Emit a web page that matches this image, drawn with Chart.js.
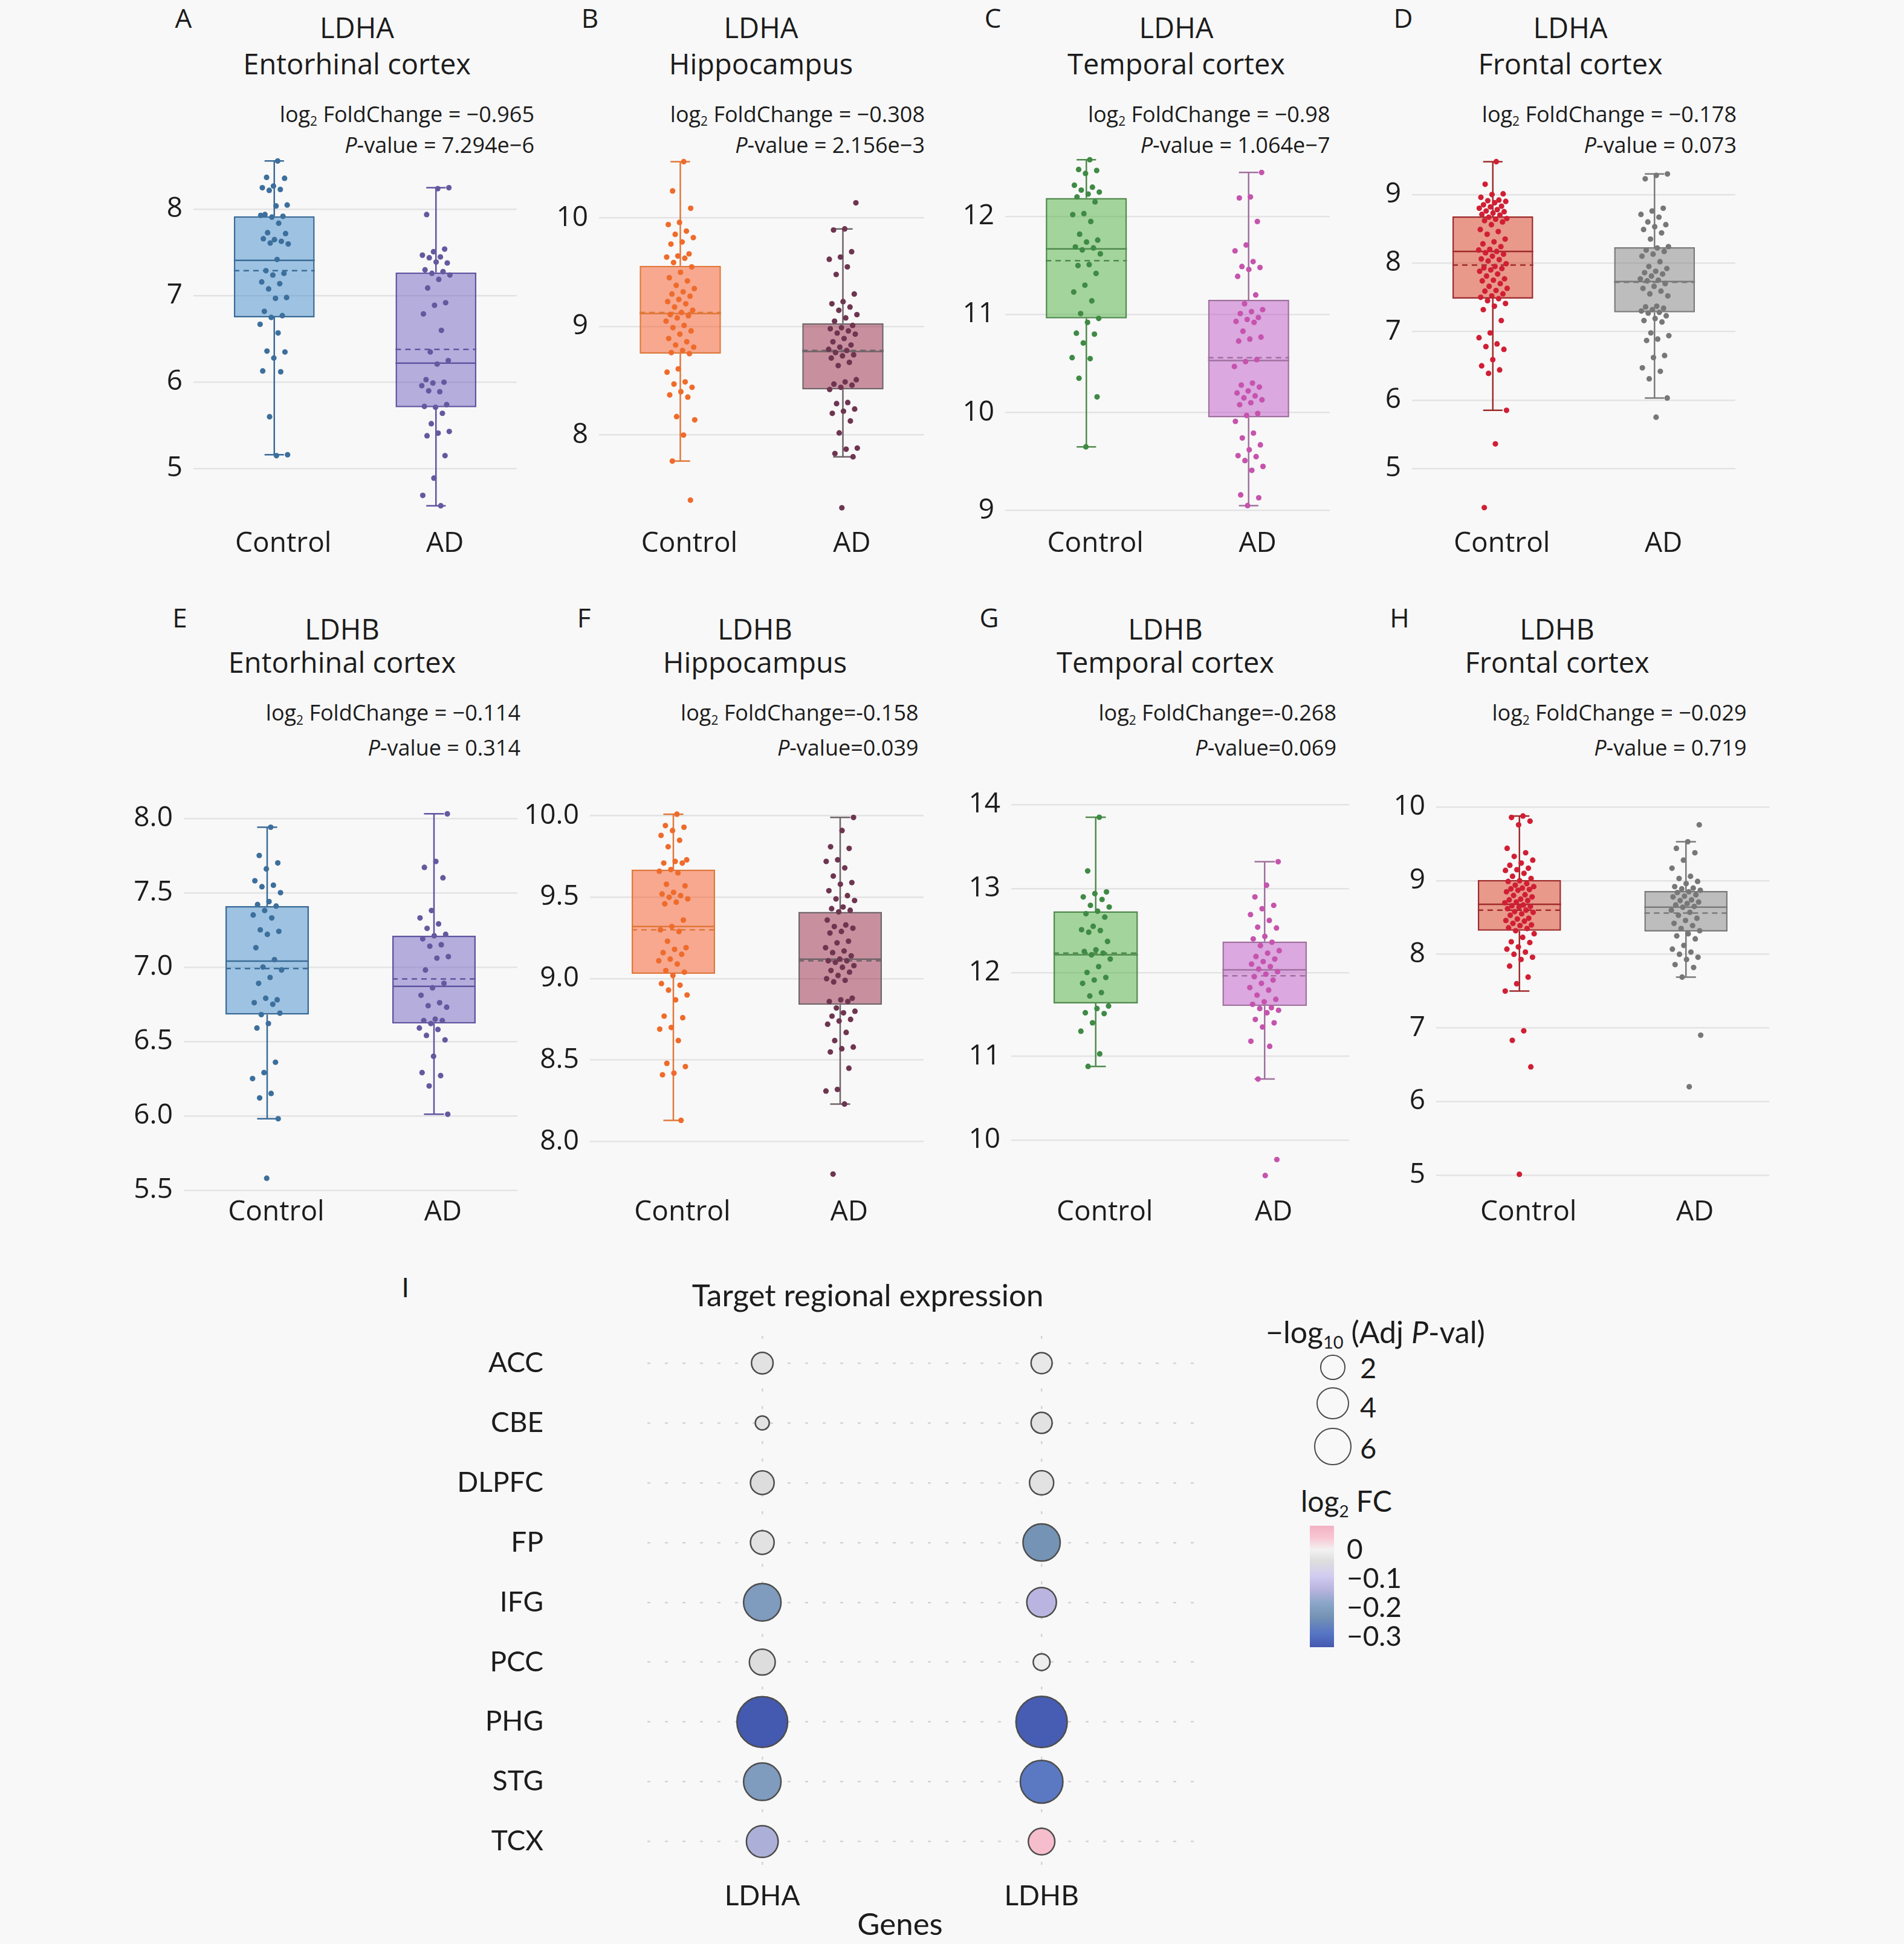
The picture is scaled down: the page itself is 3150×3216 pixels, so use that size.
<!DOCTYPE html>
<html><head><meta charset="utf-8">
<script src="https://cdn.jsdelivr.net/npm/chart.js@4.4.1/dist/chart.umd.min.js"></script>
<style>
html,body{margin:0;padding:0;background:#f8f8f8;}
#page{position:relative;width:3150px;height:3216px;overflow:hidden;background:#f8f8f8;color:#1c1c1c;}
.t{position:absolute;white-space:nowrap;line-height:1;}
.sub{font-size:0.58em;position:relative;top:0.32em;line-height:0;}
canvas{position:absolute;}
.lc{position:absolute;border:2.5px solid #4a4a4a;border-radius:50%;box-sizing:border-box;}
</style></head><body><div id="page"></div>
<script>
// ---------------- DATA ----------------
const CAT = ['Control', 'AD'];
// box stats order: [lower whisker, Q1, median, Q3, upper whisker, mean]
const A_ctrl_box = [5.16, 6.75, 7.41, 7.92, 8.56, 7.29];
const A_ad_box   = [4.57, 5.71, 6.22, 7.27, 8.25, 6.38];
const B_ctrl_box = [7.76, 8.75, 9.12, 9.56, 10.52, 9.13];
const B_ad_box   = [7.80, 8.42, 8.77, 9.03, 9.90, 8.78];
const C_ctrl_box = [9.65, 10.96, 11.67, 12.19, 12.58, 11.55];
const C_ad_box   = [9.05, 9.95, 10.53, 11.15, 12.45, 10.56];
const D_ctrl_box = [5.85, 7.48, 8.17, 8.68, 9.48, 7.97];
const D_ad_box   = [6.03, 7.28, 7.73, 8.23, 9.30, 7.72];
const E_ctrl_box = [5.98, 6.68, 7.04, 7.41, 7.94, 6.99];
const E_ad_box   = [6.01, 6.62, 6.87, 7.21, 8.03, 6.92];
const F_ctrl_box = [8.13, 9.03, 9.32, 9.67, 10.01, 9.30];
const F_ad_box   = [8.23, 8.84, 9.12, 9.41, 9.99, 9.11];
const G_ctrl_box = [10.88, 11.63, 12.21, 12.73, 13.85, 12.23];
const G_ad_box   = [10.73, 11.60, 12.03, 12.37, 13.32, 11.96];
const H_ctrl_box = [7.50, 8.32, 8.68, 9.01, 9.88, 8.60];
const H_ad_box   = [7.69, 8.31, 8.64, 8.86, 9.53, 8.56];

const A_ctrl_pts = [8.56,8.37,8.36,8.27,8.25,8.23,8.22,8.05,8.04,7.94,7.92,7.91,7.93,7.84,7.73,7.72,7.65,7.66,7.63,7.61,7.60,7.42,7.29,7.26,7.24,7.16,7.14,7.08,6.98,6.97,6.82,6.77,6.75,6.67,6.57,6.36,6.35,6.28,6.13,6.12,5.60,5.16,5.15];
const A_ad_pts = [8.25,8.24,7.94,7.54,7.51,7.47,7.45,7.44,7.38,7.39,7.30,7.28,7.26,7.24,7.19,7.09,6.92,6.89,6.79,6.60,6.35,6.25,6.21,6.03,6.00,5.99,5.96,5.89,5.90,5.74,5.71,5.72,5.64,5.52,5.43,5.41,5.38,5.15,4.89,4.69,4.57];
const B_ctrl_pts = [10.52,10.25,10.09,9.96,9.94,9.88,9.85,9.82,9.78,9.76,9.67,9.65,9.64,9.63,9.59,9.55,9.50,9.45,9.42,9.38,9.35,9.32,9.30,9.28,9.25,9.23,9.21,9.18,9.15,9.13,9.11,9.10,9.08,9.05,9.01,8.99,8.96,8.93,8.89,8.86,8.83,8.81,8.78,8.76,8.75,8.61,8.58,8.49,8.47,8.44,8.40,8.37,8.35,8.17,8.14,8.00,7.76,7.40];
const B_ad_pts = [10.14,9.90,9.89,9.69,9.64,9.62,9.55,9.48,9.30,9.23,9.21,9.18,9.15,9.11,9.08,9.05,9.01,8.99,8.98,8.96,8.94,8.93,8.89,8.86,8.83,8.81,8.79,8.78,8.76,8.74,8.73,8.71,8.67,8.64,8.51,8.49,8.47,8.46,8.44,8.42,8.30,8.29,8.24,8.22,8.20,8.13,8.02,7.88,7.87,7.83,7.80,7.33];
const C_ctrl_pts = [12.58,12.48,12.47,12.44,12.32,12.30,12.27,12.25,12.23,12.20,12.15,12.03,12.02,11.95,11.82,11.76,11.74,11.69,11.68,11.66,11.62,11.51,11.50,11.42,11.30,11.23,11.14,11.01,10.96,10.92,10.81,10.80,10.71,10.56,10.55,10.35,10.16,9.65];
const C_ad_pts = [12.45,12.20,12.19,11.95,11.71,11.65,11.54,11.49,11.48,11.46,11.39,11.20,11.11,11.05,11.03,11.01,10.97,10.95,10.93,10.92,10.83,10.77,10.75,10.73,10.54,10.52,10.47,10.30,10.28,10.26,10.22,10.20,10.17,10.15,10.13,10.10,10.08,9.99,9.97,9.91,9.79,9.74,9.67,9.62,9.56,9.55,9.51,9.45,9.41,9.16,9.13,9.05];
const D_ctrl_pts = [9.48,9.15,9.01,9.00,8.96,8.92,8.91,8.90,8.88,8.85,8.83,8.82,8.80,8.78,8.76,8.75,8.73,8.71,8.70,8.67,8.65,8.64,8.62,8.60,8.56,8.49,8.46,8.42,8.35,8.31,8.28,8.24,8.20,8.19,8.17,8.15,8.13,8.10,8.06,8.05,8.03,7.99,7.95,7.93,7.92,7.90,7.88,7.84,7.81,7.77,7.75,7.74,7.70,7.66,7.63,7.60,7.59,7.55,7.52,7.50,7.48,7.45,7.41,7.37,7.32,7.16,6.98,6.91,6.82,6.78,6.74,6.59,6.50,6.44,6.39,5.85,5.36,4.43];
const D_ad_pts = [9.30,9.28,9.23,8.80,8.76,8.71,8.67,8.60,8.56,8.53,8.49,8.44,8.35,8.24,8.22,8.19,8.17,8.13,8.10,8.02,7.95,7.92,7.88,7.86,7.84,7.81,7.77,7.75,7.74,7.70,7.66,7.63,7.59,7.55,7.52,7.37,7.36,7.34,7.32,7.30,7.28,7.27,7.23,7.19,7.16,7.14,6.98,6.94,6.89,6.87,6.65,6.62,6.47,6.42,6.31,6.03,5.75];
const E_ctrl_pts = [7.94,7.75,7.70,7.66,7.58,7.55,7.54,7.50,7.44,7.42,7.41,7.38,7.35,7.33,7.25,7.24,7.22,7.13,7.05,7.00,6.98,6.93,6.89,6.78,6.79,6.76,6.75,6.68,6.69,6.62,6.59,6.36,6.29,6.25,6.15,6.12,5.98,5.58];
const E_ad_pts = [8.03,7.71,7.67,7.60,7.38,7.33,7.29,7.26,7.22,7.21,7.19,7.15,7.14,7.07,7.06,6.98,6.89,6.86,6.81,6.76,6.74,6.73,6.65,6.64,6.64,6.62,6.59,6.58,6.54,6.51,6.40,6.29,6.27,6.20,6.01];
const F_ctrl_pts = [10.01,9.94,9.93,9.91,9.88,9.85,9.81,9.73,9.72,9.71,9.71,9.67,9.66,9.65,9.58,9.57,9.53,9.52,9.51,9.50,9.49,9.47,9.46,9.36,9.32,9.30,9.29,9.23,9.19,9.18,9.16,9.15,9.12,9.11,9.09,9.05,9.04,9.02,8.97,8.96,8.93,8.90,8.87,8.77,8.76,8.70,8.69,8.62,8.48,8.46,8.42,8.41,8.13];
const F_ad_pts = [9.99,9.91,9.81,9.80,9.73,9.72,9.68,9.63,9.59,9.58,9.54,9.51,9.49,9.48,9.44,9.43,9.42,9.41,9.36,9.33,9.32,9.31,9.29,9.28,9.23,9.22,9.19,9.17,9.16,9.14,9.12,9.11,9.11,9.10,9.08,9.07,9.05,9.04,9.02,9.00,8.99,8.98,8.88,8.87,8.86,8.86,8.82,8.80,8.79,8.77,8.75,8.74,8.72,8.67,8.62,8.58,8.57,8.55,8.45,8.32,8.31,8.23,7.80];
const G_ctrl_pts = [13.85,13.21,12.96,12.94,12.90,12.87,12.80,12.78,12.73,12.70,12.66,12.55,12.51,12.50,12.48,12.37,12.27,12.25,12.23,12.21,12.16,12.07,12.00,11.94,11.91,11.87,11.76,11.72,11.60,11.57,11.52,11.51,11.40,11.30,11.03,10.88];
const G_ad_pts = [13.32,13.04,12.90,12.80,12.76,12.69,12.62,12.54,12.53,12.43,12.40,12.36,12.32,12.26,12.23,12.19,12.16,12.13,12.10,12.07,12.04,12.01,11.98,11.95,11.91,11.87,11.82,11.79,11.73,11.68,11.65,11.62,11.58,11.57,11.55,11.52,11.44,11.40,11.35,11.18,11.12,10.73,9.77,9.58];
const H_ctrl_pts = [9.88,9.86,9.81,9.76,9.44,9.38,9.33,9.28,9.24,9.21,9.17,9.15,9.14,9.10,9.06,9.03,9.00,8.99,8.96,8.94,8.92,8.90,8.89,8.88,8.87,8.85,8.81,8.80,8.78,8.75,8.74,8.73,8.71,8.70,8.67,8.66,8.65,8.64,8.62,8.60,8.58,8.57,8.55,8.53,8.49,8.48,8.46,8.45,8.42,8.40,8.39,8.36,8.35,8.32,8.28,8.23,8.17,8.16,8.10,8.07,8.03,8.00,7.96,7.93,7.84,7.69,7.60,7.50,6.96,6.83,6.47,5.01];
const H_ad_pts = [9.76,9.53,9.44,9.38,9.28,9.17,9.06,9.03,8.99,8.96,8.92,8.90,8.89,8.87,8.85,8.84,8.81,8.79,8.78,8.74,8.73,8.71,8.69,8.67,8.65,8.64,8.60,8.57,8.53,8.49,8.46,8.42,8.39,8.35,8.32,8.28,8.25,8.21,8.12,8.07,8.03,8.00,7.96,7.93,7.86,7.82,7.69,6.90,6.20];

const panelIds = ['A','B','C','D','E','F','G','H'];
const panelGenes = ['LDHA','LDHA','LDHA','LDHA','LDHB','LDHB','LDHB','LDHB'];
const panelRegions = ['Entorhinal cortex','Hippocampus','Temporal cortex','Frontal cortex','Entorhinal cortex','Hippocampus','Temporal cortex','Frontal cortex'];
const fcText = [' = \u22120.965',' = \u22120.308',' = \u22120.98',' = \u22120.178',' = \u22120.114','=-0.158','=-0.268',' = \u22120.029'];
const pvText = [' = 7.294e\u22126',' = 2.156e\u22123',' = 1.064e\u22127',' = 0.073',' = 0.314','=0.039','=0.069',' = 0.719'];

// Panel I (dot plot)
const regions = ['ACC','CBE','DLPFC','FP','IFG','PCC','PHG','STG','TCX'];
const genes = ['LDHA','LDHB'];
const ldhaNegLog10P = [1.32, 0.39, 1.70, 1.70, 6.16, 2.18, 14.4, 6.16, 3.88];
const ldhbNegLog10P = [1.22, 1.22, 1.80, 6.04, 3.18, 0.64, 14.8, 8.86, 2.33];
const ldhaLog2FC = [-0.03, -0.03, -0.04, -0.03, -0.21, -0.04, -0.34, -0.21, -0.15];
const ldhbLog2FC = [-0.02, -0.03, -0.03, -0.23, -0.135, -0.01, -0.33, -0.28, 0.06];
const sizeLegendValues = [2, 4, 6];
const fcLegendTicks = [0, -0.1, -0.2, -0.3];

// ---------------- STYLE / LAYOUT ----------------
const page = document.getElementById('page');
const TOPF = 'Open Sans', BOTF = 'Lato';
const AXW = 150, XAH = 100, TOPM = 40;
const themes = [
  [{fill:'rgba(68,142,204,0.5)', line:'#3a6b97', pt:'#3c6f9c'}, {fill:'rgba(114,100,194,0.5)', line:'#5f54a0', pt:'#64599f'}],
  [{fill:'rgba(246,88,38,0.5)', line:'#e0783a', pt:'#ef6b2b'}, {fill:'rgba(152,40,70,0.5)', line:'#6f6468', pt:'#6e3550'}],
  [{fill:'rgba(78,176,62,0.5)', line:'#4f8a4c', pt:'#3f8a45'}, {fill:'rgba(190,88,200,0.5)', line:'#a0709e', pt:'#c653ad'}],
  [{fill:'rgba(216,58,28,0.5)', line:'#9e2b2b', pt:'#d01f35'}, {fill:'rgba(130,130,130,0.5)', line:'#7a7a7a', pt:'#777777'}]
];
const pos = [
  {l:320,   r:855,    t:250,  b:847,  yMin:4.498, yMax:8.674,  step:1,   xPad:17, letter:[303.5,28.7],  title:[590.6,45,104.6],  ann:[884,188.7,240]},
  {l:990.5, r:1528,   t:250,  b:847,  yMin:7.291, yMax:10.617, step:1,   xPad:17, letter:[976,28.7],    title:[1259,45,104.6],   ann:[1530,188.7,240]},
  {l:1663,  r:2199.5, t:250,  b:847,  yMin:8.985, yMax:12.668, step:1,   xPad:17, letter:[1642.7,28.7], title:[1946,45,104.6],   ann:[2200.5,188.7,240]},
  {l:2336,  r:2871,   t:250,  b:847,  yMin:4.366, yMax:9.634,  step:1,   xPad:17, letter:[2321.5,28.7], title:[2598,45,104.6],   ann:[2873,188.7,240]},
  {l:303.5, r:855,    t:1323, b:1973, yMin:5.483, yMax:8.125,  step:0.5, xPad:-3, letter:[297.4,1021],  title:[566,1039.8,1095], ann:[861,1179,1236.6]},
  {l:976,   r:1528,   t:1323, b:1952, yMin:7.764, yMax:10.099, step:0.5, xPad:18, letter:[966,1021],    title:[1249,1039.8,1095],ann:[1519.6,1179,1236.6]},
  {l:1672.5,r:2231,   t:1323, b:1952, yMin:9.527, yMax:14.059, step:1,   xPad:18, letter:[1636.5,1021], title:[1928,1039.8,1095],ann:[2211,1179,1236.6]},
  {l:2376,  r:2926.5, t:1323, b:1952, yMin:4.933, yMax:10.101, step:1,   xPad:18, letter:[2315.4,1021], title:[2576,1039.8,1095],ann:[2889.6,1179,1236.6]}
];
const boxes = [[A_ctrl_box,A_ad_box],[B_ctrl_box,B_ad_box],[C_ctrl_box,C_ad_box],[D_ctrl_box,D_ad_box],[E_ctrl_box,E_ad_box],[F_ctrl_box,F_ad_box],[G_ctrl_box,G_ad_box],[H_ctrl_box,H_ad_box]];
const points = [[A_ctrl_pts,A_ad_pts],[B_ctrl_pts,B_ad_pts],[C_ctrl_pts,C_ad_pts],[D_ctrl_pts,D_ad_pts],[E_ctrl_pts,E_ad_pts],[F_ctrl_pts,F_ad_pts],[G_ctrl_pts,G_ad_pts],[H_ctrl_pts,H_ad_pts]];

function addText(html, x, y, size, family, anchor) {
  const d = document.createElement('div');
  d.className = 't';
  d.innerHTML = html;
  d.style.left = x + 'px'; d.style.top = y + 'px';
  d.style.fontSize = size + 'px'; d.style.fontFamily = family;
  const tx = anchor === 'right' ? '-100%' : (anchor === 'left' ? '0' : '-50%');
  d.style.transform = 'translate(' + tx + ',-50%)';
  page.appendChild(d);
}
function makeCanvas(left, top, w, h) {
  const c = document.createElement('canvas');
  c.width = Math.round(w); c.height = Math.round(h);
  c.style.left = left + 'px'; c.style.top = top + 'px';
  c.style.width = Math.round(w) + 'px'; c.style.height = Math.round(h) + 'px';
  page.appendChild(c);
  return c;
}
// deterministic horizontal jitter (visual offset only)
const JW = 0.09;
const jit = (i) => ((((i + 1) * 0.6180339887) % 1) - 0.5) * 2 * JW;

function boxPlugin(stats, lineColors) {
  return {
    id: 'boxWhiskers',
    afterDatasetDraw(chart, args) {
      if (args.meta.type !== 'bar') return;
      const ctx = chart.ctx, ys = chart.scales.y, xs = chart.scales.x;
      args.meta.data.forEach((bar, i) => {
        const s = stats[i];
        const cx = bar.x, half = bar.width / 2;
        const cap = xs.getPixelForValue(0.06) - xs.getPixelForValue(0);
        const py = (v) => ys.getPixelForValue(v);
        ctx.save();
        ctx.strokeStyle = lineColors[i]; ctx.lineWidth = 2.5;
        ctx.beginPath();
        ctx.moveTo(cx, py(s[3])); ctx.lineTo(cx, py(s[4]));
        ctx.moveTo(cx, py(s[1])); ctx.lineTo(cx, py(s[0]));
        ctx.moveTo(cx - cap, py(s[4])); ctx.lineTo(cx + cap, py(s[4]));
        ctx.moveTo(cx - cap, py(s[0])); ctx.lineTo(cx + cap, py(s[0]));
        ctx.moveTo(cx - half, py(s[2])); ctx.lineTo(cx + half, py(s[2]));
        ctx.stroke();
        ctx.setLineDash([9, 7]);
        ctx.beginPath();
        ctx.moveTo(cx - half, py(s[5])); ctx.lineTo(cx + half, py(s[5]));
        ctx.stroke();
        ctx.restore();
      });
    }
  };
}

function fixAxis(w, h) {
  return (s) => {
    if (w !== null) s.width = w;
    if (h !== null) s.height = h;
    s.paddingTop = 0; s.paddingBottom = 0; s.paddingLeft = 0; s.paddingRight = 0;
  };
}

// ---------------- BOX PANELS ----------------
panelIds.forEach((id, k) => {
  const p = pos[k];
  const th = themes[k % 4];
  const st = boxes[k];
  const pts = points[k];
  addText(id, p.letter[0], p.letter[1], 44, TOPF, 'center');
  addText(panelGenes[k], p.title[0], p.title[1], 47, TOPF, 'center');
  addText(panelRegions[k], p.title[0], p.title[2], 47, TOPF, 'center');
  addText('log<span class="sub">2</span> FoldChange' + fcText[k], p.ann[0], p.ann[1], 36, TOPF, 'right');
  addText('<i>P</i>-value' + pvText[k], p.ann[0], p.ann[2], 36, TOPF, 'right');

  const W = (p.r - p.l) + AXW, H = (p.b - p.t) + XAH + TOPM;
  const cv = makeCanvas(p.l - AXW, p.t - TOPM, W, H);
  new Chart(cv, {
    type: 'bar',
    data: {
      datasets: [
        {
          type: 'bar', order: 2,
          data: st.map((s, i) => ({x: i, y: [s[1], s[3]]})),
          backgroundColor: th.map(c => c.fill),
          borderColor: th.map(c => c.line),
          borderWidth: 2.5, borderSkipped: false,
          barPercentage: 0.5, categoryPercentage: 1
        },
        {
          type: 'scatter', order: 1,
          data: pts[0].map((v, i) => ({x: 0 + jit(i), y: v})),
          backgroundColor: th[0].pt, borderWidth: 0, pointRadius: 4.6
        },
        {
          type: 'scatter', order: 1,
          data: pts[1].map((v, i) => ({x: 1 + jit(i + 7), y: v})),
          backgroundColor: th[1].pt, borderWidth: 0, pointRadius: 4.6
        }
      ]
    },
    options: {
      responsive: false, animation: false, events: [],
      layout: {autoPadding: false, padding: {top: TOPM, left: 0, right: 0, bottom: 0}},
      plugins: {legend: {display: false}, tooltip: {enabled: false}, title: {display: false}},
      scales: {
        x: {
          type: 'linear', min: -0.5, max: 1.5, offset: false,
          grid: {display: false, offset: false}, border: {display: false},
          afterBuildTicks: (s) => { s.ticks = CAT.map((c, i) => ({value: i})); },
          ticks: {
            callback: (v) => CAT[v], autoSkip: false, maxRotation: 0,
            font: {family: TOPF, size: 46}, color: '#1c1c1c', padding: p.xPad, labelOffset: 15
          },
          afterFit: fixAxis(null, XAH)
        },
        y: {
          type: 'linear', min: p.yMin, max: p.yMax,
          grid: {color: '#e3e3e3', lineWidth: 2.5, drawTicks: false}, border: {display: false},
          ticks: {
            stepSize: p.step, includeBounds: false,
            callback: (v) => p.step < 1 ? Number(v).toFixed(1) : String(Math.round(v)),
            font: {family: TOPF, size: 46}, color: '#1c1c1c', padding: 18
          },
          afterFit: fixAxis(AXW, null)
        }
      }
    },
    plugins: [boxPlugin(st, th.map(c => c.line))]
  });
});

// ---------------- PANEL I ----------------
const fcStops = [[-0.336,'#4459b0'],[-0.288,'#5675c4'],[-0.232,'#7492b3'],[-0.184,'#8ba6c8'],[-0.136,'#b9b4e0'],[-0.088,'#d2cdf0'],[-0.04,'#dddddd'],[0,'#f2f2f2'],[0.04,'#f8c8d4'],[0.084,'#f3b2c3']];
const CB_MIN = -0.336, CB_MAX = 0.083;
function hex2rgb(h) { return [parseInt(h.slice(1,3),16), parseInt(h.slice(3,5),16), parseInt(h.slice(5,7),16)]; }
function fcColor(v) {
  if (v <= fcStops[0][0]) return fcStops[0][1];
  for (let i = 1; i < fcStops.length; i++) {
    if (v <= fcStops[i][0]) {
      const [v0, c0] = fcStops[i-1], [v1, c1] = fcStops[i];
      const t = (v - v0) / (v1 - v0);
      const a = hex2rgb(c0), b = hex2rgb(c1);
      return 'rgb(' + a.map((x, j) => Math.round(x + (b[j] - x) * t)).join(',') + ')';
    }
  }
  return fcStops[fcStops.length - 1][1];
}
const radiusOf = (v) => 16.2 * Math.pow(v, 0.357);

addText('I', 670.6, 2128.7, 44, BOTF, 'center');
addText('Target regional expression', 1435.6, 2141, 51, BOTF, 'center');
addText('Genes', 1489, 3181, 51, BOTF, 'center');

const IL = 1070.5, IR = 1993.4, IT = 2210, IB = 3096, IAXW = 370;
const bubbleCanvas = makeCanvas(IL - IAXW, IT - TOPM, (IR - IL) + IAXW, (IB - IT) + XAH + TOPM);
const bubbleData = [], bubbleColors = [];
regions.forEach((r, i) => {
  bubbleData.push({x: 0, y: i, r: radiusOf(ldhaNegLog10P[i])}); bubbleColors.push(fcColor(ldhaLog2FC[i]));
});
regions.forEach((r, i) => {
  bubbleData.push({x: 1, y: i, r: radiusOf(ldhbNegLog10P[i])}); bubbleColors.push(fcColor(ldhbLog2FC[i]));
});
new Chart(bubbleCanvas, {
  type: 'bubble',
  data: {datasets: [{data: bubbleData, backgroundColor: bubbleColors, borderColor: '#4d4d4d', borderWidth: 2.5, clip: false}]},
  options: {
    responsive: false, animation: false, events: [],
    layout: {autoPadding: false, padding: {top: TOPM, left: 0, right: 0, bottom: 0}},
    plugins: {legend: {display: false}, tooltip: {enabled: false}},
    scales: {
      x: {
        type: 'linear', min: -0.4115, max: 1.586,
        afterBuildTicks: (s) => { s.ticks = genes.map((g, i) => ({value: i})); },
        ticks: {callback: (v) => genes[v], autoSkip: false, maxRotation: 0, font: {family: BOTF, size: 46}, color: '#1c1c1c', padding: 14},
        grid: {color: '#d4d4d4', lineWidth: 2.5, drawTicks: false},
        border: {display: false, dash: [5, 24]},
        afterFit: fixAxis(null, XAH)
      },
      y: {
        type: 'linear', reverse: true, min: -0.455, max: 8.5,
        afterBuildTicks: (s) => { s.ticks = regions.map((g, i) => ({value: i})); },
        ticks: {callback: (v) => regions[v], autoSkip: false, font: {family: BOTF, size: 46}, color: '#1c1c1c', padding: 172},
        grid: {color: '#d4d4d4', lineWidth: 2.5, drawTicks: false},
        border: {display: false, dash: [5, 24]},
        afterFit: fixAxis(IAXW, null)
      }
    }
  }
});

// size legend
addText('\u2212log<span class="sub">10</span> (Adj <i>P</i>-val)', 2094, 2203, 50, BOTF, 'left');
const legendCY = [2262, 2321.5, 2393], legendLY = [2262, 2327, 2395];
sizeLegendValues.forEach((v, i) => {
  const r = radiusOf(v);
  const d = document.createElement('div');
  d.className = 'lc';
  d.style.left = (2205 - r) + 'px'; d.style.top = (legendCY[i] - r) + 'px';
  d.style.width = (2 * r) + 'px'; d.style.height = (2 * r) + 'px';
  page.appendChild(d);
  addText(String(v), 2250, legendLY[i], 47, BOTF, 'left');
});
addText('log<span class="sub">2</span> FC', 2152, 2483, 48, BOTF, 'left');

// colour bar
const CBL = 2167, CBT = 2523.6, CBW = 40, CBH = 201.1, CBAX = 150;
const cbCanvas = makeCanvas(CBL, CBT, CBW + CBAX, CBH + 40);
new Chart(cbCanvas, {
  type: 'bar',
  data: {labels: ['fc'], datasets: [{
    data: [[CB_MIN, CB_MAX]], borderWidth: 0, barPercentage: 1, categoryPercentage: 1,
    backgroundColor: (c) => {
      const ch = c.chart; if (!ch.chartArea) return '#ccc';
      const ys = ch.scales.y;
      const g = ch.ctx.createLinearGradient(0, ys.getPixelForValue(CB_MIN), 0, ys.getPixelForValue(CB_MAX));
      fcStops.forEach(([v, col]) => g.addColorStop(Math.min(1, Math.max(0, (v - CB_MIN) / (CB_MAX - CB_MIN))), col));
      return g;
    }
  }]},
  options: {
    responsive: false, animation: false, events: [],
    layout: {autoPadding: false, padding: {top: 0, left: 0, right: 0, bottom: 40}},
    plugins: {legend: {display: false}, tooltip: {enabled: false}},
    scales: {
      x: {display: false},
      y: {
        position: 'right', min: CB_MIN, max: CB_MAX,
        afterBuildTicks: (s) => { s.ticks = fcLegendTicks.map(v => ({value: v})); },
        ticks: {callback: (v) => Math.abs(v) < 1e-9 ? '0' : '\u2212' + Math.abs(v).toFixed(1), font: {family: BOTF, size: 46}, color: '#1c1c1c', padding: 13},
        grid: {display: false}, border: {display: false},
        afterFit: fixAxis(CBAX, null)
      }
    }
  }
});
</script></body></html>
